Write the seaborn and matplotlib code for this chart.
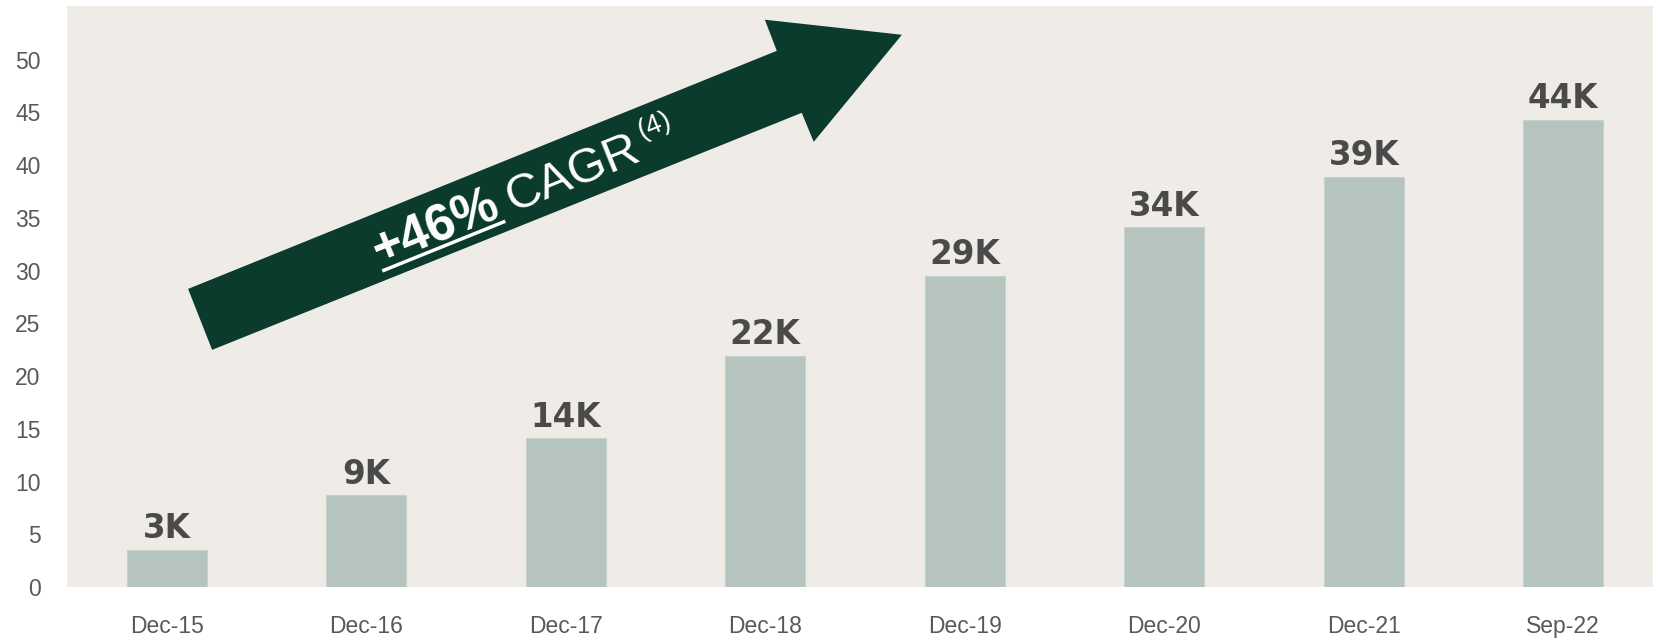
import numpy as np
import seaborn as sns
import matplotlib.pyplot as plt
from matplotlib.patches import Polygon

# --- chart data ---
categories = ["Dec-15", "Dec-16", "Dec-17", "Dec-18", "Dec-19", "Dec-20", "Dec-21", "Sep-22"]
values = [3.5, 8.7, 14.1, 21.9, 29.5, 34.1, 38.9, 44.3]
bar_labels = ["3K", "9K", "14K", "22K", "29K", "34K", "39K", "44K"]
y_ticks = [0, 5, 10, 15, 20, 25, 30, 35, 40, 45, 50]
cagr_value = "+46%"
cagr_word = "CAGR"
cagr_note = "(4)"

BG = "#efece7"
BAR = "#b5c4be"
GREEN = "#0b3b2c"
LABEL = "#4a4a4a"
TICK = "#595959"

sns.set_theme(style="white")
plt.rcParams["font.family"] = ["Liberation Sans", "DejaVu Sans"]

fig = plt.figure(figsize=(16.53, 6.39), dpi=100)
ax = fig.add_axes([67 / 1653, 52 / 639, 1586 / 1653, 581 / 639])
ax.set_facecolor(BG)

sns.barplot(x=categories, y=values, color=BAR, saturation=1, width=0.4, ax=ax,
            edgecolor="#c6d1cc", linewidth=0.8)
ax.set_xlim(-0.5, 7.45)
ax.set_ylim(0, 55.1)
ax.set_yticks(y_ticks)
ax.set_xlabel("")
ax.set_ylabel("")
ax.tick_params(axis="y", length=0, pad=19, labelsize=16.5, labelcolor=TICK)
ax.tick_params(axis="x", length=0, pad=20, labelsize=16.5, labelcolor=TICK)
for s in ax.spines.values():
    s.set_visible(False)

# value labels above bars
for i, (v, lab) in enumerate(zip(values, bar_labels)):
    ax.text(i, v + 1.1, lab, ha="center", va="baseline", fontsize=23.5,
            fontweight="bold", color=LABEL, family="DejaVu Sans")

# big growth arrow (decoration)
arrow_pts = [(0.2275, 22.49), (0.107, 28.27), (3.058, 50.85), (2.998, 53.8),
             (3.685, 52.37), (3.243, 42.22), (3.183, 44.97)]
ax.add_patch(Polygon(arrow_pts, closed=True, facecolor=GREEN, edgecolor="none", zorder=3))

# rotated CAGR text, built from pieces
angle = 22.0
ca, sa = np.cos(np.radians(angle)), np.sin(np.radians(angle))
anchor = (1.069, 30.5)
renderer = fig.canvas.get_renderer()


def text_width(s, **kw):
    t = ax.text(0, 0, s, **kw)
    w = t.get_window_extent(renderer).width
    t.remove()
    return w


def put(s, along, up, **kw):
    dx = along * ca - up * sa
    dy = along * sa + up * ca
    ax.annotate(s, xy=anchor, xycoords="data", xytext=(dx, dy), textcoords="offset pixels",
                rotation=angle, rotation_mode="anchor", ha="left", va="baseline",
                color="white", zorder=4, **kw)


bold_kw = dict(fontsize=37, fontweight="bold")
reg_kw = dict(fontsize=35)
sup_kw = dict(fontsize=20)

w_val = text_width(cagr_value, **bold_kw)
w_word = text_width(cagr_word, **reg_kw)
put(cagr_value, 0, 0, **bold_kw)
put(cagr_word, w_val + 10, 0, **reg_kw)
put(cagr_note, w_val + 10 + w_word + 6, 20, **sup_kw)

# underline under the percentage
ax_disp = ax.transData.transform(anchor)
ul_off = -6
p0 = ax_disp + np.array([0 * ca - ul_off * sa, 0 * sa + ul_off * ca])
p1 = ax_disp + np.array([w_val * ca - ul_off * sa, w_val * sa + ul_off * ca])
inv = ax.transData.inverted()
d0, d1 = inv.transform(p0), inv.transform(p1)
ax.plot([d0[0], d1[0]], [d0[1], d1[1]], color="white", lw=2.5, solid_capstyle="butt", zorder=4)

fig.savefig("out.png", dpi=100, facecolor="white")
